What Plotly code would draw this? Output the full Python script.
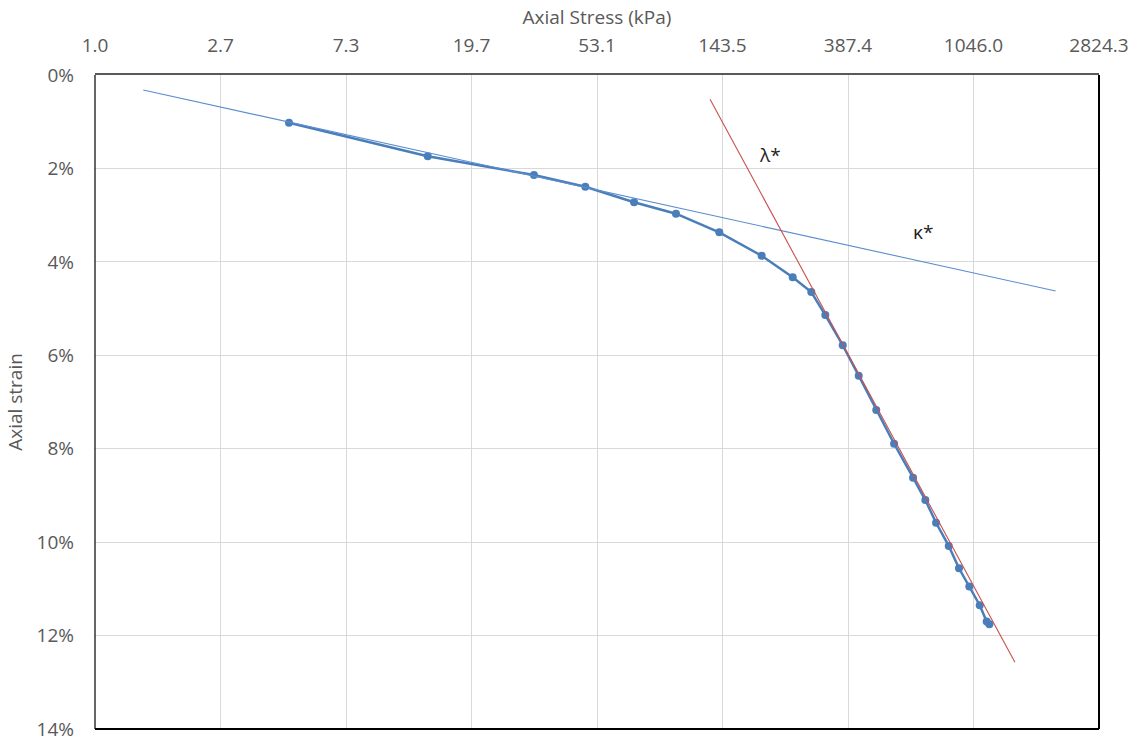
import math
import plotly.graph_objects as go

# Oedometer test: axial stress (kPa) vs axial strain (%)
stress_kpa = [4.643, 13.92, 32.27, 48.46, 71.25, 99.3, 139.9, 195.6, 250.1, 289.8,
              323.7, 371.6, 421.7, 484.6, 558.0, 648.3, 714.5, 777.8, 860.0, 932.5,
              1012.0, 1099.0, 1161.0, 1186.0]
strain_pct = [1.021, 1.741, 2.141, 2.391, 2.725, 2.969, 3.368, 3.868, 4.331, 4.646,
              5.138, 5.785, 6.438, 7.172, 7.893, 8.621, 9.099, 9.585, 10.08, 10.56,
              10.95, 11.35, 11.70, 11.76]

# Fitted unloading/reloading (kappa*) and compression (lambda*) lines
kappa_stress = [1.465, 2004.0]
kappa_strain = [0.321, 4.624]
lambda_stress = [130.0, 1452.0]
lambda_strain = [0.520, 12.57]

# Log axis ticks at powers of 2.7
x_tickvals = [1.0, 2.7, 7.29, 19.683, 53.1441, 143.48907, 387.420489, 1046.0353203, 2824.29536481]
x_ticktext = ["1.0", "2.7", "7.3", "19.7", "53.1", "143.5", "387.4", "1046.0", "2824.3"]
y_tickvals = [0, 2, 4, 6, 8, 10, 12, 14]
y_ticktext = ["0%", "2%", "4%", "6%", "8%", "10%", "12%", "14%"]

label_names = ["λ*", "κ*"]
label_stress = [209.0, 701.0]
label_strain = [1.71, 3.36]

FONT = "Open Sans, Arial, sans-serif"
GREY = "#595959"
BLUE = "#4A7EBB"

fig = go.Figure()

fig.add_trace(go.Scatter(
    x=stress_kpa, y=strain_pct, mode="lines+markers",
    line=dict(color=BLUE, width=2.5),
    marker=dict(color=BLUE, size=8),
    showlegend=False,
))
fig.add_trace(go.Scatter(
    x=kappa_stress, y=kappa_strain, mode="lines",
    line=dict(color="#5B8DD0", width=1.1),
    showlegend=False,
))
fig.add_trace(go.Scatter(
    x=lambda_stress, y=lambda_strain, mode="lines",
    line=dict(color="#C9504D", width=1.1),
    showlegend=False,
))

# Annotations on a log axis take log10 positions
for name, lx, ly in zip(label_names, label_stress, label_strain):
    fig.add_annotation(x=math.log10(lx), y=ly, xref="x", yref="y", text=name, showarrow=False,
                       font=dict(family=FONT, size=19, color="#1F1F1F"))

# Plot frame: black on left, right and bottom
fig.add_shape(type="line", xref="paper", yref="paper", x0=0, x1=0, y0=0, y1=1,
              line=dict(color="black", width=1.2))
fig.add_shape(type="line", xref="paper", yref="paper", x0=1, x1=1, y0=0, y1=1,
              line=dict(color="black", width=2))
fig.add_shape(type="line", xref="paper", yref="paper", x0=0, x1=1, y0=0, y1=0,
              line=dict(color="black", width=2))

fig.update_layout(
    width=1137, height=742,
    margin=dict(l=95, r=38, t=75, b=13),
    paper_bgcolor="white", plot_bgcolor="white",
    font=dict(family=FONT, size=19, color=GREY),
    xaxis=dict(
        type="log", side="top", automargin=False,
        range=[0, 3.45093],
        tickvals=x_tickvals, ticktext=x_ticktext,
        showgrid=True, gridcolor="#D9D9D9", gridwidth=1,
        showline=True, linecolor="#595959", linewidth=1.5,
        ticks="", ticklabelstandoff=14,
        tickfont=dict(family=FONT, size=19, color=GREY),
        title=dict(text="Axial Stress (kPa)", standoff=2,
                   font=dict(family=FONT, size=19, color=GREY)),
        zeroline=False,
    ),
    yaxis=dict(
        range=[14, 0], automargin=False,
        tickvals=y_tickvals, ticktext=y_ticktext,
        showgrid=True, gridcolor="#D9D9D9", gridwidth=1,
        showline=False, ticks="", ticklabelstandoff=20,
        tickfont=dict(family=FONT, size=19, color=GREY),
        title=dict(text="Axial strain", standoff=8,
                   font=dict(family=FONT, size=19, color=GREY)),
        zeroline=False,
    ),
)

fig.write_html("out.html")
